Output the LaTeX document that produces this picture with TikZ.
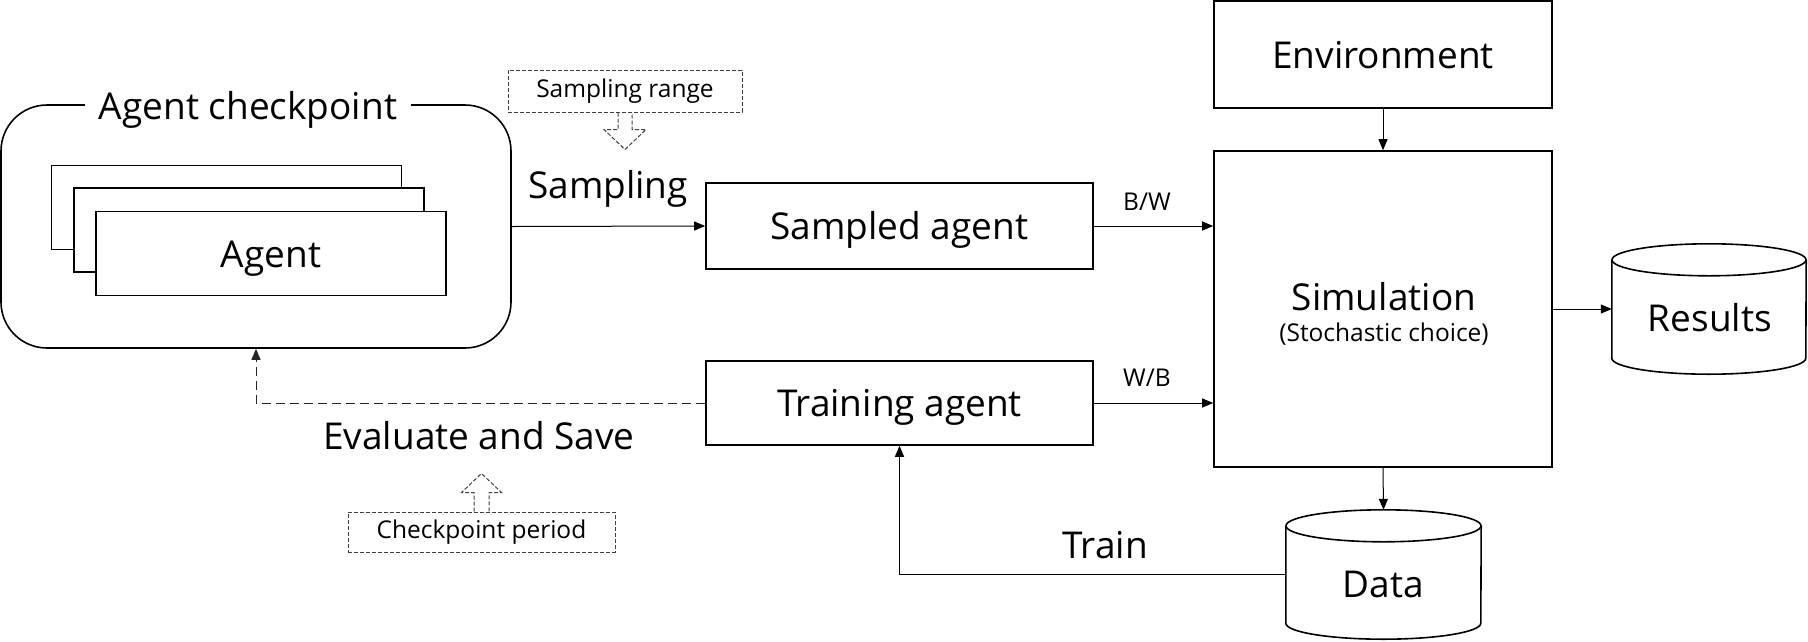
\documentclass[tikz,border=0pt]{standalone}
\usepackage{fontspec}
\setmainfont{Open Sans}
\usetikzlibrary{arrows.meta,calc}
\begin{document}
\begin{tikzpicture}[x=1pt,y=-1pt,
  big/.style={font=\fontsize{37}{44}\selectfont},
  small/.style={font=\fontsize{24.5}{29}\selectfont},
  box/.style={draw,line width=1.6pt,inner sep=0pt,fill=white,big,text height=35pt,text depth=8pt},
  tagbox/.style={draw=black!75,line width=1pt,dash pattern=on 4pt off 2pt,inner sep=0pt,small},
  hollow/.style={draw=black!75,line width=1pt,dash pattern=on 4pt off 2pt,line join=miter},
  conn/.style={line width=1pt,-{Triangle[length=11pt,width=9pt]}},
  dconn/.style={conn,dash pattern=on 9pt off 5pt,draw=black!85},
  cylbody/.style={line width=1.6pt},
  lbl/.style={inner sep=0pt}
]
\useasboundingbox (0,0) rectangle (1808,641);

% checkpoint store with its stack of agents
\node[draw,line width=1.6pt,rounded corners=46pt,minimum width=510pt,minimum height=243pt] (ckpt) at (256,226.5) {};
\node[fill=white,inner xsep=14pt,inner ysep=2pt,big] (ckpttitle) at (248,110) {Agent checkpoint};
\node[box,minimum width=350pt,minimum height=84pt] (agentback) at (226.5,207.5) {};
\node[box,minimum width=350pt,minimum height=84pt] (agentmid) at (249,230) {};
\node[box,minimum width=350pt,minimum height=84pt] (agent) at (271,253.5) {Agent};

% agents and simulation
\node[box,minimum width=387pt,minimum height=86pt] (sampled) at (899.5,226) {Sampled agent};
\node[box,minimum width=387pt,minimum height=84pt] (train) at (899.5,403) {Training agent};
\node[box,minimum width=338pt,minimum height=107pt] (env) at (1383,54.5) {Environment};
\node[box,minimum width=338pt,minimum height=316pt] (sim) at (1383,309) {};
\node[lbl,big] (simtitle) at (1384,297) {Simulation};
\node[lbl,small] (simnote) at (1384,334) {(Stochastic choice)};

% storage cylinders
\node[minimum width=195pt,minimum height=129pt,inner sep=0pt] (data) at (1383.5,574.5) {};
\draw[cylbody] ($(data.north west)+(0,16)$) -- ($(data.south west)+(0,-16)$)
  arc[start angle=180,end angle=360,x radius=97.5pt,y radius=16pt] -- ($(data.north east)+(0,16)$);
\draw[cylbody] ($(data.north)+(0,16)$) ellipse[x radius=97.5pt,y radius=16pt];
\node[lbl,big] (datatext) at (1383.5,584) {Data};

\node[minimum width=194pt,minimum height=130pt,inner sep=0pt] (results) at (1709,309) {};
\draw[cylbody] ($(results.north west)+(0,16)$) -- ($(results.south west)+(0,-16)$)
  arc[start angle=180,end angle=360,x radius=97pt,y radius=16pt] -- ($(results.north east)+(0,16)$);
\draw[cylbody] ($(results.north)+(0,16)$) ellipse[x radius=97pt,y radius=16pt];
\node[lbl,big] (resultstext) at (1710,318) {Results};

% parameter tags
\node[tagbox,minimum width=234pt,minimum height=42pt] (range) at (625,91) {Sampling range};
\draw[hollow] ($(range.south)+(-7,0)$) -- ++(0,17) -- ++(-14,0) -- ++(21,20) -- ++(21,-20) -- ++(-14,0) -- ++(0,-17);
\node[tagbox,minimum width=267pt,minimum height=40pt] (period) at (481.5,532) {Checkpoint period};
\draw[hollow] ($(period.north)+(-7.5,0)$) -- ++(0,-19) -- ++(-12.5,0) -- ++(20,-19) -- ++(20,19) -- ++(-12.5,0) -- ++(0,19);

% connectors
\draw[conn] (ckpt.east) -- (sampled.west);
\node[lbl,big] (samplinglbl) at (608,189) {Sampling};
\draw[conn] (sampled.east) -- (sampled.east -| sim.west);
\node[lbl,small] (bw) at (1147,202) {B/W};
\draw[conn] (train.east) -- (train.east -| sim.west);
\node[lbl,small] (wb) at (1147,378) {W/B};
\draw[conn] (env.south) -- (sim.north);
\draw[conn] (sim.east) -- (results.west);
\draw[conn] (sim.south) -- (data.north);
\draw[conn] (data.west) -| (train.south);
\node[lbl,big] (trainlbl) at (1105,545) {Train};
\draw[dconn] (train.west) -| (ckpt.south);
\node[lbl,big] (evallbl) at (479,436) {Evaluate and Save};
\end{tikzpicture}
\end{document}
